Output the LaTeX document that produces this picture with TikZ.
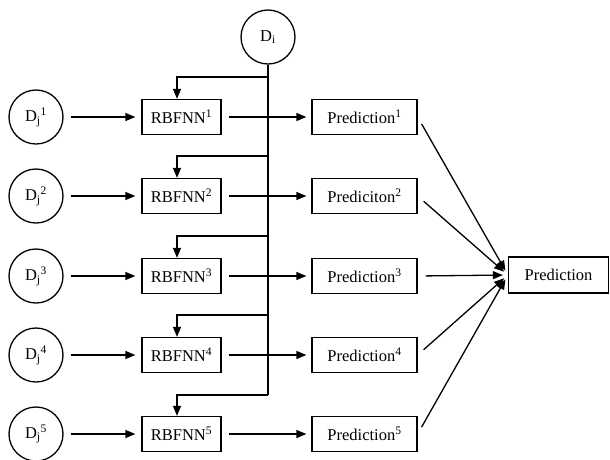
\documentclass[tikz,border=0pt]{standalone}
\usepackage{fontspec}
\setmainfont{Liberation Serif}
\usetikzlibrary{arrows.meta}

\tikzset{
  srcnode/.style={draw, circle, line width=1.3pt, minimum size=54pt, inner sep=0pt},
  netbox/.style={draw, rectangle, line width=1.3pt, minimum width=79pt, minimum height=35pt, inner sep=0pt},
  predbox/.style={draw, rectangle, line width=1.3pt, minimum width=105pt, minimum height=35pt, inner sep=0pt},
  link/.style={line width=1.3pt, -{Triangle[length=10pt,width=8pt]}},
}

\begin{document}
\begin{tikzpicture}[x=1pt, y=-1pt, font=\fontsize{16.5}{19}\selectfont]
        \useasboundingbox (0,0) rectangle (610,459);

        % common input
        \node[srcnode] (di) at (268,37) {D\textsubscript{i}};

        % inputs
        \node[srcnode] (dj1) at (36,117) {D\textsubscript{j}\textsuperscript{1}};
        \node[srcnode] (dj2) at (36,196) {D\textsubscript{j}\textsuperscript{2}};
        \node[srcnode] (dj3) at (36,276) {D\textsubscript{j}\textsuperscript{3}};
        \node[srcnode] (dj4) at (36,355) {D\textsubscript{j}\textsuperscript{4}};
        \node[srcnode] (dj5) at (36,434) {D\textsubscript{j}\textsuperscript{5}};

        % networks
        \node[netbox] (net1) at (181.5,117) {RBFNN\textsuperscript{1}};
        \node[netbox] (net2) at (181.5,196) {RBFNN\textsuperscript{2}};
        \node[netbox] (net3) at (181.5,276) {RBFNN\textsuperscript{3}};
        \node[netbox] (net4) at (181.5,355) {RBFNN\textsuperscript{4}};
        \node[netbox] (net5) at (181.5,434) {RBFNN\textsuperscript{5}};

        % single predictions
        \node[predbox] (pred1) at (364.5,117) {Prediction\textsuperscript{1}};
        \node[predbox] (pred2) at (364.5,196) {Prediciton\textsuperscript{2}};
        \node[predbox] (pred3) at (364.5,276) {Prediction\textsuperscript{3}};
        \node[predbox] (pred4) at (364.5,355) {Prediction\textsuperscript{4}};
        \node[predbox] (pred5) at (364.5,434) {Prediction\textsuperscript{5}};

        % combined prediction
        \node[draw, rectangle, line width=1.3pt, minimum width=100pt, minimum height=36pt, inner sep=0pt] (final) at (558.5,275) {Prediction};

        % trunk from D_i
        \coordinate (b1) at (268,77);
        \coordinate (b2) at (268,156);
        \coordinate (b3) at (268,236);
        \coordinate (b4) at (268,315);
        \coordinate (b5) at (268,395);
        \draw[line width=1.3pt] (di) -- (b5);
        \draw[link] (b1) -| ([xshift=-4.5pt]net1.north);
        \draw[link] (b2) -| ([xshift=-4.5pt]net2.north);
        \draw[link] (b3) -| ([xshift=-4.5pt]net3.north);
        \draw[link] (b4) -| ([xshift=-4.5pt]net4.north);
        \draw[link] (b5) -| ([xshift=-4.5pt]net5.north);

        % rows
        \draw[link, shorten <=7pt, shorten >=6pt] (dj1) -- (net1);
        \draw[link, shorten <=7pt, shorten >=6pt] (dj2) -- (net2);
        \draw[link, shorten <=7pt, shorten >=6pt] (dj3) -- (net3);
        \draw[link, shorten <=7pt, shorten >=6pt] (dj4) -- (net4);
        \draw[link, shorten <=7pt, shorten >=6pt] (dj5) -- (net5);
        \draw[link, shorten <=7pt, shorten >=5pt] (net1) -- (pred1);
        \draw[link, shorten <=7pt, shorten >=5pt] (net2) -- (pred2);
        \draw[link, shorten <=7pt, shorten >=5pt] (net3) -- (pred3);
        \draw[link, shorten <=7pt, shorten >=5pt] (net4) -- (pred4);
        \draw[link, shorten <=7pt, shorten >=5pt] (net5) -- (pred5);

        % combine
        \draw[link, shorten <=8pt, shorten >=5pt] (pred1.east) -- (final.west);
        \draw[link, shorten <=8pt, shorten >=5pt] (pred2.east) -- (final.west);
        \draw[link, shorten <=8pt, shorten >=5pt] (pred3.east) -- (final.west);
        \draw[link, shorten <=8pt, shorten >=5pt] (pred4.east) -- (final.west);
        \draw[link, shorten <=8pt, shorten >=5pt] (pred5.east) -- (final.west);
    \end{tikzpicture}
\end{document}
